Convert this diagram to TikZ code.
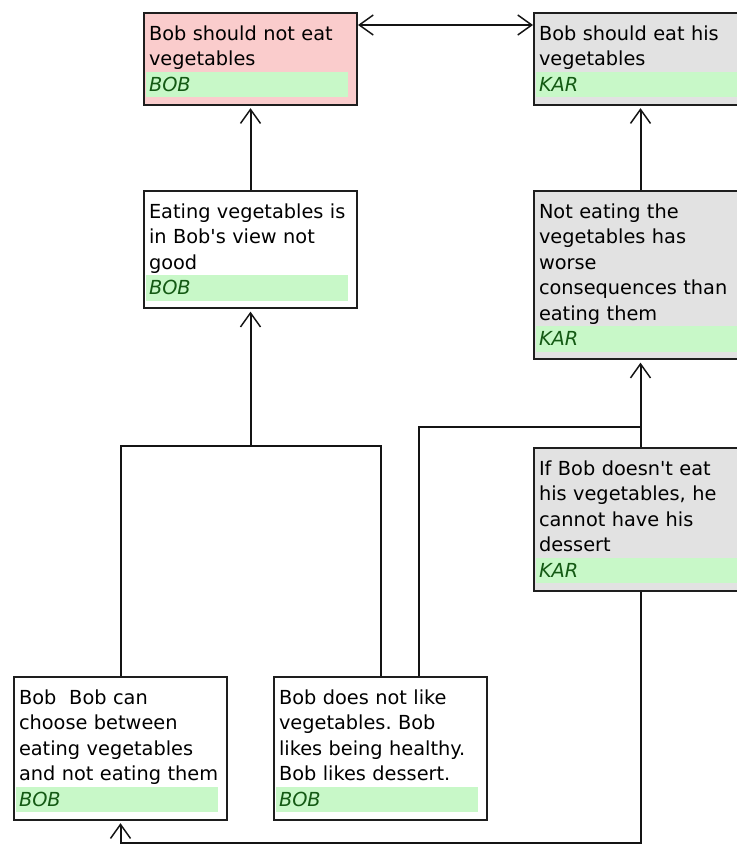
\documentclass[tikz,border=0pt]{standalone}
\usepackage{fontspec}
\setmainfont{DejaVu Sans}
\usetikzlibrary{arrows.meta,calc}
\setlength{\parindent}{0pt}
\frenchspacing

\definecolor{barfill}{RGB}{200,248,200}
\definecolor{authorink}{RGB}{20,90,20}
\newcommand{\argstrut}{\rule[-4.4pt]{0pt}{19.125pt}\hspace*{2.25pt}}
\newcommand{\argauthor}[1]{\setlength{\fboxsep}{0pt}\colorbox{barfill}{\makebox[151.5pt][l]{\argstrut\textit{\color{authorink}#1}}}}

\tikzset{every picture/.style={line width=0.75pt}}
\tikzset{
  claim/.style={rectangle, draw={rgb, 255:red, 30; green, 30; blue, 30}, line width=1.5pt,
    anchor=north west, inner xsep=1.5pt, inner ysep=5.625pt, text width=156.75pt, align=left,
    font=\fontsize{14.5pt}{19.125pt}\selectfont},
  bobclaim/.style={claim, fill={rgb, 255:red, 250; green, 204; blue, 204}},
  karclaim/.style={claim, fill={rgb, 255:red, 226; green, 226; blue, 226}},
  plainclaim/.style={claim, fill=white},
  link/.style={draw={rgb, 255:red, 20; green, 20; blue, 20}, line width=1.5pt},
  support/.style={link, ->, shorten >=2pt},
}

\begin{document}
\begin{tikzpicture}[x=0.75pt,y=0.75pt,yscale=-1,xscale=1,>={Straight Barb[length=10.5pt,width=15pt,line width=1.1pt]}]
\useasboundingbox[fill=white] (0,0) rectangle (736,846);

%Claims
\node[bobclaim] (notEat) at (143,12) {\argstrut Bob should not eat\\ \argstrut vegetables\\ \argauthor{BOB}};
\node[karclaim] (eat) at (533,12) {\argstrut Bob should eat his\\ \argstrut vegetables\\ \argauthor{KAR}};
\node[plainclaim] (notGood) at (143,190) {\argstrut Eating vegetables is\\ \argstrut in Bob\textquotesingle s view not\\ \argstrut good\\ \argauthor{BOB}};
\node[karclaim] (worse) at (533,190) {\argstrut Not eating the\\ \argstrut vegetables has\\ \argstrut worse\\ \argstrut consequences than\\ \argstrut eating them\\ \argauthor{KAR}};
\node[karclaim] (dessert) at (533,447) {\argstrut If Bob doesn\textquotesingle t eat\\ \argstrut his vegetables, he\\ \argstrut cannot have his\\ \argstrut dessert\\ \argauthor{KAR}};
\node[plainclaim] (choose) at (13,676) {\argstrut Bob~ Bob can\\ \argstrut choose between\\ \argstrut eating vegetables\\ \argstrut and not eating them\\ \argauthor{BOB}};
\node[plainclaim] (likes) at (273,676) {\argstrut Bob does not like\\ \argstrut vegetables. Bob\\ \argstrut likes being healthy.\\ \argstrut Bob likes dessert.\\ \argauthor{BOB}};

%Junctions
\coordinate (jNotGood) at (notGood.south |- 0,446);
\coordinate (jWorse) at (worse.south |- 0,427);
\coordinate (bend) at (dessert.south |- 0,843);

%Rebuttal
\draw[link, <->] ($(notEat.north east)+(0,13)$) -- ($(eat.north west)+(0,13)$);
%Supports
\draw[support] (notGood.north) -- (notEat.south);
\draw[support] (worse.north) -- (eat.south);
\draw[link] (choose.north) |- (jNotGood) -| (likes.north);
\draw[support] (jNotGood) -- (notGood.south);
\draw[link] ($(likes.north west)+(146,0)$) |- (jWorse);
\draw[link] (dessert.north) -- (jWorse);
\draw[support] (jWorse) -- (worse.south);
\draw[support] (dessert.south) -- (bend) -| (choose.south);

\end{tikzpicture}
\end{document}
